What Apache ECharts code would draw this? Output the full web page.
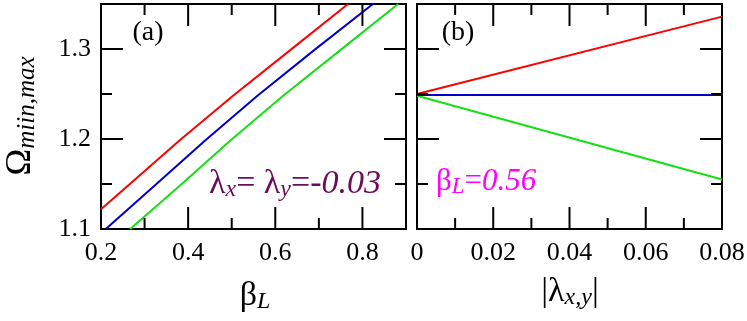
<!DOCTYPE html>
<html>
<head>
<meta charset="utf-8">
<script src="https://cdn.jsdelivr.net/npm/echarts@6/dist/echarts.min.js"></script>
<style>
  html, body { margin: 0; padding: 0; background: #fff; }
  #chart { width: 747px; height: 321px; }
</style>
</head>
<body>
<div id="chart"></div>
<script>
// ---- panel (a): Omega vs beta_L at lambda_x = lambda_y = -0.03 ----
const betaRed   = [0.200, 0.263, 0.380, 0.503, 0.640, 0.767];
const omegaRed  = [1.122, 1.1486, 1.1983, 1.248, 1.301, 1.350];
const betaBlue  = [0.211, 0.324, 0.439, 0.559, 0.690, 0.824];
const omegaBlue = [1.100, 1.1486, 1.1983, 1.248, 1.299, 1.350];
const betaGreen = [0.267, 0.382, 0.497, 0.618, 0.750, 0.882];
const omegaGreen= [1.100, 1.1486, 1.1983, 1.248, 1.299, 1.350];

// ---- panel (b): Omega vs |lambda| at beta_L = 0.56 ----
const lamB       = [0, 0.08];
const omegaRedB  = [1.250, 1.336];
const omegaBlueB = [1.249, 1.249];
const omegaGreenB= [1.248, 1.155];

// ---- tick values (major / minor) ----
const betaMajor   = [0.4, 0.6, 0.8];
const betaMinor   = [0.3, 0.5, 0.7];
const lamMajor    = [0.02, 0.04, 0.06];
const lamMinor    = [0.01, 0.03, 0.05, 0.07];
const omegaMajor  = [1.2, 1.3];
const omegaMinor  = [1.15, 1.25];

const COLORS = { red: '#ff0000', blue: '#0000cc', green: '#14e014' };
const SERIF = 'Liberation Serif';
const LINE = { color: '#000', width: 2 };
const TICK_STYLE = { stroke: '#000', lineWidth: 2 };

function zip(xs, ys) {
    return xs.map((x, i) => [x, ys[i]]);
}

// edge values that sit on the frame but carry no label in the reference
const skipLabel = [0.9, 1.35];

function sideAxis(gridIndex, pos, min, max, step, labels) {
    return {
        type: 'value', gridIndex, position: pos, min, max, interval: step,
        splitLine: { show: false },
        axisLine: { show: true, onZero: false, lineStyle: LINE },
        axisTick: { show: false },
        axisLabel: {
            show: labels,
            fontFamily: SERIF, fontSize: 26, color: '#000',
            margin: (pos === 'bottom') ? 11 : 10,
            formatter: v => skipLabel.some(s => Math.abs(v - s) < 1e-9) ? '' : String(Math.round(v * 1000) / 1000)
        }
    };
}

function lineSeries(xi, yi, data, color) {
    return {
        type: 'line', xAxisIndex: xi, yAxisIndex: yi, data,
        showSymbol: false, z: 2,
        lineStyle: { color, width: 2 }
    };
}

// inward ticks on both opposite frame edges, placed through the axis scale
function tickSeries(idx, dim, values, len, lo, hi) {
    const data = values.map(v => dim === 'x' ? [v, lo] : [lo, v]);
    return {
        type: 'custom', xAxisIndex: idx, yAxisIndex: idx, silent: true, z: 3, clip: false,
        data,
        renderItem: (params, api) => {
            const v = api.value(dim === 'x' ? 0 : 1);
            const a = api.coord(dim === 'x' ? [v, lo] : [lo, v]);
            const b = api.coord(dim === 'x' ? [v, hi] : [hi, v]);
            const s = dim === 'x'
                ? [[a[0], a[1], a[0], a[1] - len], [b[0], b[1], b[0], b[1] + len]]
                : [[a[0], a[1], a[0] + len, a[1]], [b[0], b[1], b[0] - len, b[1]]];
            return {
                type: 'group',
                children: s.map(p => ({
                    type: 'line',
                    shape: { x1: p[0], y1: p[1], x2: p[2], y2: p[3] },
                    style: TICK_STYLE
                }))
            };
        }
    };
}

const xAxes = [
    sideAxis(0, 'bottom', 0.2, 0.9, 0.2, true),
    sideAxis(0, 'top', 0.2, 0.9, 0.2, false),
    sideAxis(1, 'bottom', 0, 0.08, 0.02, true),
    sideAxis(1, 'top', 0, 0.08, 0.02, false)
];
const yAxes = [
    sideAxis(0, 'left', 1.1, 1.35, 0.1, true),
    sideAxis(0, 'right', 1.1, 1.35, 0.1, false),
    sideAxis(1, 'left', 1.1, 1.35, 0.1, false),
    sideAxis(1, 'right', 1.1, 1.35, 0.1, false)
];

const subStyle = { fontFamily: SERIF, fontStyle: 'italic', verticalAlign: 'bottom', lineHeight: 12 };

const chart = echarts.init(document.getElementById('chart'));
chart.setOption({
    animation: false,
    grid: [
        { left: 101, top: 4, width: 305, height: 225, outerBoundsMode: 'none' },
        { left: 417, top: 4, width: 305, height: 225, outerBoundsMode: 'none' }
    ],
    xAxis: xAxes,
    yAxis: yAxes,
    series: [
        lineSeries(0, 0, zip(betaRed, omegaRed), COLORS.red),
        lineSeries(0, 0, zip(betaBlue, omegaBlue), COLORS.blue),
        lineSeries(0, 0, zip(betaGreen, omegaGreen), COLORS.green),
        lineSeries(2, 2, zip(lamB, omegaRedB), COLORS.red),
        lineSeries(2, 2, zip(lamB, omegaGreenB), COLORS.green),
        lineSeries(2, 2, zip(lamB, omegaBlueB), COLORS.blue),
        tickSeries(0, 'x', betaMajor, 22, 1.1, 1.35),
        tickSeries(0, 'x', betaMinor, 11, 1.1, 1.35),
        tickSeries(0, 'y', omegaMajor, 22, 0.2, 0.9),
        tickSeries(0, 'y', omegaMinor, 11, 0.2, 0.9),
        tickSeries(2, 'x', lamMajor, 22, 1.1, 1.35),
        tickSeries(2, 'x', lamMinor, 11, 1.1, 1.35),
        tickSeries(2, 'y', omegaMajor, 22, 0, 0.08),
        tickSeries(2, 'y', omegaMinor, 11, 0, 0.08)
    ],
    graphic: [
        { type: 'text', x: 148, y: 33, style: { text: '(a)', font: '28px "Liberation Serif"', fill: '#000', align: 'center', verticalAlign: 'middle' } },
        { type: 'text', x: 458, y: 33, style: { text: '(b)', font: '28px "Liberation Serif"', fill: '#000', align: 'center', verticalAlign: 'middle' } },
        { type: 'text', x: 255, y: 296, style: {
            text: '{m|β}{s|L}', align: 'center', verticalAlign: 'middle', fill: '#000',
            rich: { m: { fontFamily: SERIF, fontSize: 34, lineHeight: 36 }, s: Object.assign({ fontSize: 24 }, subStyle) } } },
        { type: 'text', x: 570, y: 292, style: {
            text: '{m|\u007Cλ}{s|x,y}{m|\u007C}', align: 'center', verticalAlign: 'middle', fill: '#000',
            rich: { m: { fontFamily: SERIF, fontSize: 34, lineHeight: 36 }, s: Object.assign({ fontSize: 24 }, subStyle) } } },
        { type: 'text', x: 21, y: 116, rotation: Math.PI / 2, style: {
            text: '{m|Ω}{s|miin,max}', align: 'center', verticalAlign: 'middle', fill: '#000',
            rich: { m: { fontFamily: SERIF, fontSize: 36, lineHeight: 38 }, s: Object.assign({ fontSize: 25 }, subStyle) } } },
        { type: 'text', x: 209, y: 184, style: {
            text: '{m|λ}{s|x}{m|= λ}{s|y}{m|=}{i|-0.03}', align: 'left', verticalAlign: 'middle', fill: '#6b0b5a',
            rich: {
                m: { fontFamily: SERIF, fontSize: 34, lineHeight: 36, fill: '#6b0b5a' },
                i: { fontFamily: SERIF, fontStyle: 'italic', fontSize: 34, lineHeight: 36, fill: '#6b0b5a' },
                s: Object.assign({ fontSize: 24, fill: '#6b0b5a' }, subStyle)
            } } },
        { type: 'text', x: 436, y: 182, style: {
            text: '{m|β}{s|L}{m|=}{i|0.56}', align: 'left', verticalAlign: 'middle', fill: '#ff00ff',
            rich: {
                m: { fontFamily: SERIF, fontSize: 31, lineHeight: 33, fill: '#ff00ff' },
                i: { fontFamily: SERIF, fontStyle: 'italic', fontSize: 31, lineHeight: 33, fill: '#ff00ff' },
                s: Object.assign({ fontSize: 23, fill: '#ff00ff' }, subStyle)
            } } }
    ]
});
</script>
</body>
</html>
